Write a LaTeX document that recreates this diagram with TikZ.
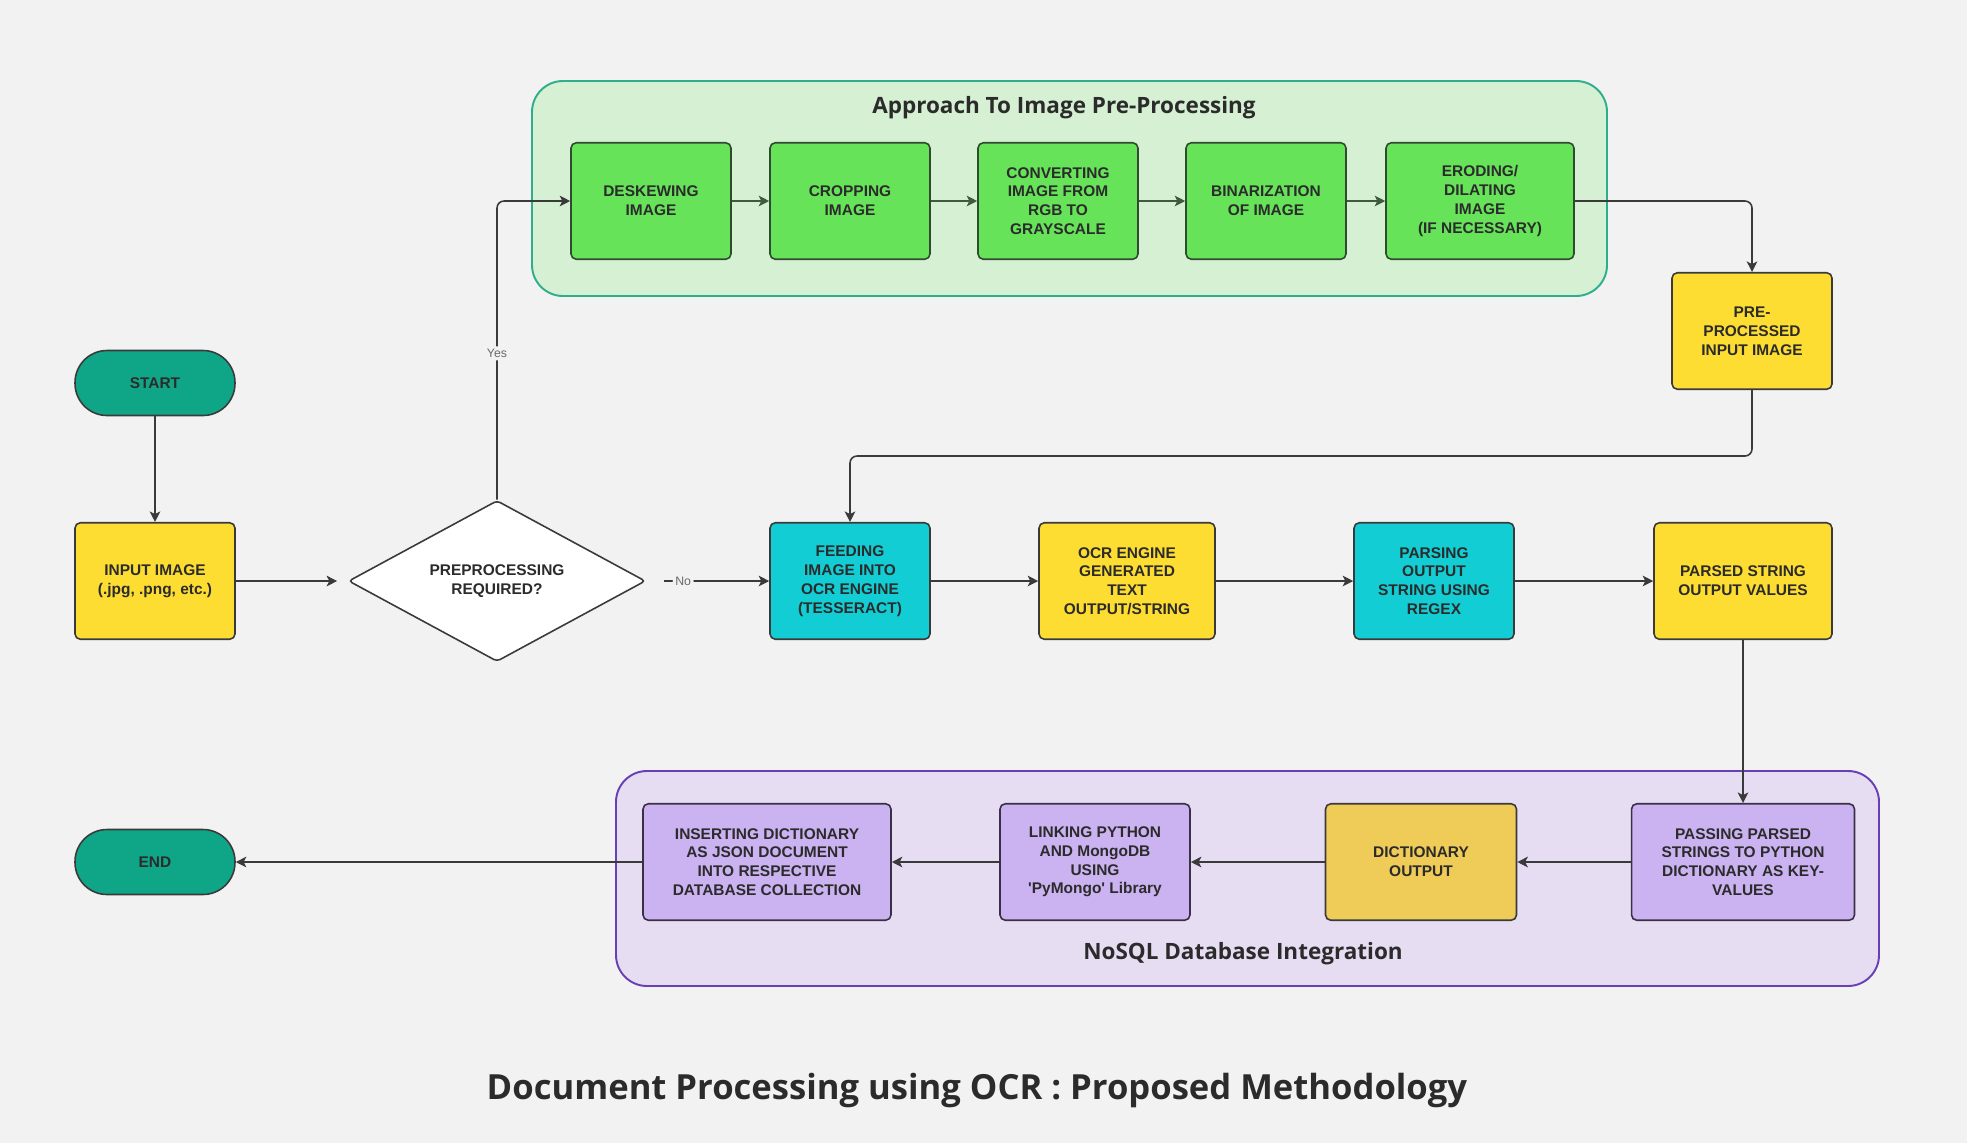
\documentclass[tikz,border=0pt]{standalone}
\usepackage{fontspec}
\setmainfont{Liberation Sans}
\newfontfamily\headfont{Open Sans}
\usetikzlibrary{shapes.geometric,arrows.meta}

\definecolor{bgcol}{HTML}{F2F2F2}
\definecolor{textcol}{HTML}{2B2B2B}
\definecolor{linecol}{HTML}{3A3A3A}
\definecolor{labelcol}{HTML}{6A6A6A}
\definecolor{termcol}{HTML}{0FA688}
\definecolor{yellowcol}{HTML}{FEDD33}
\definecolor{dictcol}{HTML}{EFCB58}
\definecolor{greencol}{HTML}{67E35A}
\definecolor{greenline}{HTML}{2F4A2F}
\definecolor{greenarrow}{HTML}{3F5B3F}
\definecolor{greenbg}{HTML}{D6F0D4}
\definecolor{greenframe}{HTML}{2EAE8C}
\definecolor{cyancol}{HTML}{12CDD4}
\definecolor{purplecol}{HTML}{CBB2F0}
\definecolor{purpleline}{HTML}{3A3046}
\definecolor{purplebg}{HTML}{E6DDF3}
\definecolor{purpleframe}{HTML}{6A3FB5}

\tikzset{
  box/.style={draw=linecol, line width=0.9pt, rounded corners=3pt,
    minimum width=3.2cm, minimum height=2.33cm, inner sep=2pt,
    align=center, text=textcol, font=\fontsize{8.8}{10.7}\selectfont\bfseries},
  terminal/.style={box, fill=termcol, rounded corners=0.64cm, minimum height=1.3cm},
  io/.style={box, fill=yellowcol},
  prep/.style={box, fill=greencol, draw=greenline},
  ocr/.style={box, fill=cyancol},
  db/.style={box, fill=purplecol, draw=purpleline},
  decision/.style={diamond, aspect=1.84, draw=linecol, line width=0.9pt, fill=white,
    minimum width=5.94cm, minimum height=3.22cm, inner sep=0pt, rounded corners=2pt,
    align=center, text=textcol, font=\fontsize{8.8}{10.7}\selectfont\bfseries},
  flow/.style={draw=linecol, line width=0.9pt, rounded corners=4pt,
    -{Stealth[length=6pt,width=6pt,inset=1.5pt]}},
  gflow/.style={flow, draw=greenarrow},
  lbl/.style={fill=bgcol, text=labelcol, inner sep=1.5pt, font=\fontsize{7}{8}\selectfont},
  group/.style={line width=1.1pt, rounded corners=0.62cm},
  heading/.style={text=textcol, font=\headfont\fontsize{12.8}{15}\selectfont\bfseries}
}

\begin{document}
\begin{tikzpicture}[x=0.02cm, y=-0.02cm]
  \fill[bgcol] (0,0) rectangle (1967,1143);
  \useasboundingbox (0,0) rectangle (1967,1143);

  % groups
  \draw[group, fill=greenbg, draw=greenframe] (532,81) rectangle (1607,296);
  \node[heading] (prephead) at (1064,108) {Approach To Image Pre-Processing};
  \draw[group, fill=purplebg, draw=purpleframe] (616,771) rectangle (1879,986);
  \node[heading] (dbhead) at (1243,954) {NoSQL Database Integration};

  % left column
  \node[terminal] (start) at (155,383) {START};
  \node[io] (input) at (155,581) {INPUT IMAGE\\(.jpg, .png, etc.)};
  \node[decision] (dec) at (497,581) {PREPROCESSING\\REQUIRED?};
  \node[terminal] (end) at (155,862) {END};

  % pre-processing
  \node[prep] (desk) at (651,201) {DESKEWING\\IMAGE};
  \node[prep] (crop) at (850,201) {CROPPING\\IMAGE};
  \node[prep] (gray) at (1058,201) {CONVERTING\\IMAGE FROM\\RGB TO\\GRAYSCALE};
  \node[prep] (bin) at (1266,201) {BINARIZATION\\OF IMAGE};
  \node[prep, minimum width=3.76cm] (erode) at (1480,201) {ERODING/\\DILATING\\IMAGE\\(IF NECESSARY)};
  \node[io] (pre) at (1752,331) {PRE-\\PROCESSED\\INPUT IMAGE};

  % ocr row
  \node[ocr] (feed) at (850,581) {FEEDING\\IMAGE INTO\\OCR ENGINE\\(TESSERACT)};
  \node[io, minimum width=3.52cm] (text) at (1127,581) {OCR ENGINE\\GENERATED\\TEXT\\OUTPUT/STRING};
  \node[ocr] (parse) at (1434,581) {PARSING\\OUTPUT\\STRING USING\\REGEX};
  \node[io, minimum width=3.56cm] (vals) at (1743,581) {PARSED STRING\\OUTPUT VALUES};

  % database row
  \node[db, minimum width=4.46cm] (pass) at (1743,862) {PASSING PARSED\\STRINGS TO PYTHON\\DICTIONARY AS KEY-\\VALUES};
  \node[box, fill=dictcol, minimum width=3.82cm] (dict) at (1421,862) {DICTIONARY\\OUTPUT};
  \node[db, minimum width=3.8cm] (link) at (1095,862) {LINKING PYTHON\\AND MongoDB\\USING\\\textquotesingle PyMongo\textquotesingle\ Library};
  \node[db, minimum width=4.96cm] (insert) at (767,862) {INSERTING DICTIONARY\\AS JSON DOCUMENT\\INTO RESPECTIVE\\DATABASE COLLECTION};

  \coordinate (back) at (1300,456);

  \draw[flow] (start) -- (input);
  \draw[flow, shorten >=6pt] (input) -- (dec);
  \draw[flow] (dec.north) |- node[lbl, pos=0.245] {Yes} (desk.west);
  \draw[flow, shorten <=10pt] (dec.east) -- node[lbl, pos=0.3] {No} (feed.west);
  \draw[gflow] (desk) -- (crop);
  \draw[gflow] (crop) -- (gray);
  \draw[gflow] (gray) -- (bin);
  \draw[gflow] (bin) -- (erode);
  \draw[flow] (erode.east) -| (pre.north);
  \draw[flow] (pre.south) |- (back) -| (feed.north);
  \draw[flow] (feed) -- (text);
  \draw[flow] (text) -- (parse);
  \draw[flow] (parse) -- (vals);
  \draw[flow] (vals) -- (pass);
  \draw[flow] (pass) -- (dict);
  \draw[flow] (dict) -- (link);
  \draw[flow] (link) -- (insert);
  \draw[flow] (insert) -- (end);

  \node[text=textcol, font=\headfont\fontsize{19.7}{24}\selectfont\bfseries] (title) at (977,1090)
    {Document Processing using OCR : Proposed Methodology};
\end{tikzpicture}
\end{document}
